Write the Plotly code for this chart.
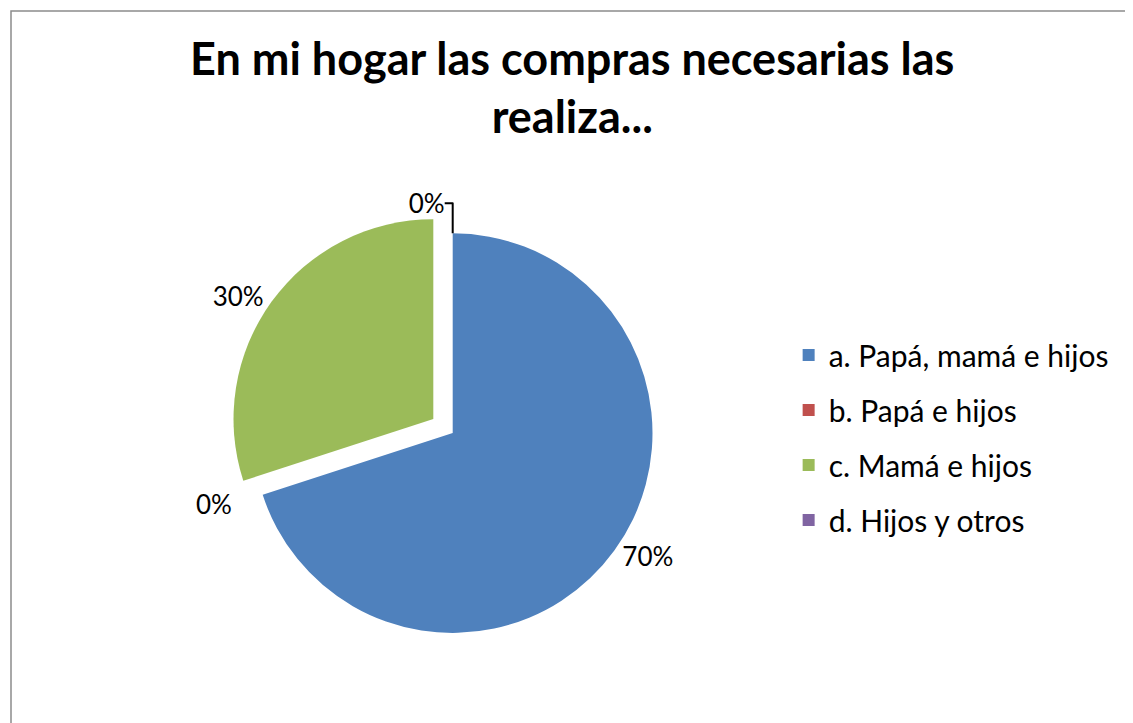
import plotly.graph_objects as go

labels = ["a. Papá, mamá e hijos", "b. Papá e hijos", "c. Mamá e hijos", "d. Hijos y otros"]
values = [70, 0, 30, 0]
colors = ["#4F81BD", "#C0504D", "#9BBB59", "#8064A2"]
pulls = [0, 0.12, 0.12, 0]
title_text = "En mi hogar las compras necesarias las<br>realiza..."

FONT = "Lato, Carlito, sans-serif"

fig = go.Figure()
fig.add_trace(go.Pie(
    labels=labels, values=values, sort=False, direction="clockwise", rotation=0,
    marker=dict(colors=colors, line=dict(color="white", width=0)),
    pull=pulls, textposition="outside",
    texttemplate="%{percent:.0%}",
    textfont=dict(family=FONT, size=26, color="black"),
    domain=dict(x=[0.195, 0.590], y=[0.102, 0.722]),
    showlegend=False,
))

# legend entries (one per category) so the items can be spaced like the reference
for i, (lab, col) in enumerate(zip(labels, colors)):
    fig.add_trace(go.Scatter(
        x=[None], y=[None], mode="markers", name=lab, legendgroup=f"g{i}",
        marker=dict(symbol="square", size=15, color=col), showlegend=True,
    ))

fig.update_layout(
    width=1133, height=723,
    margin=dict(l=0, r=0, t=0, b=0, autoexpand=False),
    paper_bgcolor="white", plot_bgcolor="white",
    xaxis=dict(visible=False), yaxis=dict(visible=False),
    title=dict(text=title_text, xref="container", yref="container",
               x=0.498, xanchor="center", y=0.908, yanchor="top",
               font=dict(family=FONT, size=45, color="black", weight="bold")),
    legend=dict(xref="container", yref="container", x=0.689, y=0.556,
                xanchor="left", yanchor="top",
                font=dict(family=FONT, size=30, color="black"),
                tracegroupgap=13, itemsizing="constant",
                traceorder="grouped", bgcolor="rgba(0,0,0,0)"),
    shapes=[dict(type="rect", xref="paper", yref="paper",
                 x0=3/1133, x1=1128/1133, y0=-0.02, y1=1-3/723,
                 line=dict(color="#8c8c8c", width=1.5), layer="below")],
)

fig.write_html("out.html")
